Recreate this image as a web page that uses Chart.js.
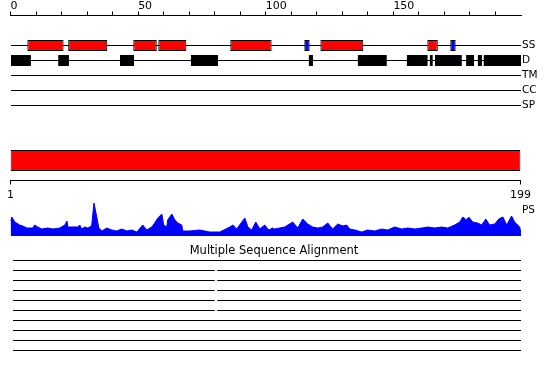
<!DOCTYPE html>
<html><head><meta charset="utf-8">
<script src="https://cdn.jsdelivr.net/npm/chart.js"></script>
<style>
html,body{margin:0;padding:0;background:#fff;}
#wrap{position:relative;width:550px;height:380px;overflow:hidden;background:#fff;}
canvas{position:absolute;left:0;}
</style></head><body>
<div id="wrap">
<canvas id="cTracks" width="550" height="121" style="top:0px"></canvas>
<canvas id="cRuler" width="550" height="65" style="top:140px"></canvas>
<canvas id="cPS" width="550" height="50" style="top:190px"></canvas>
<canvas id="cMSA" width="550" height="130" style="top:240px"></canvas>
</div>
<script>
// ---------- data ----------
const trackNames = ['SS', 'D', 'TM', 'CC', 'SP'];
const rulerMax = 200;
const seqStart = 1;
const seqEnd = 199;
const helixSegments = [[6.6,20.8],[22.6,37.9],[48.1,57.3],[57.9,68.9],[86.1,102.3],[121.4,138.2],[163.3,167.4]];
const strandSegments = [[115.1,117.2],[172.3,174.4]];
const disorderSegments = [[0,8],[18.7,22.9],[42.9,48.4],[70.7,81.3],[116.9,118.5],[136.1,147.4],[155.3,163.4],[164.3,165.4],[166.3,176.8],[178.5,181.6],[183.1,184.7],[185.4,200]];
const psPos = [0,0.5,1.7,3.6,4.8,6.4,8.7,9.5,10.7,12.3,14.6,16.6,19.3,21.3,22.1,22.5,26.4,27.1,27.9,29.1,30.3,31.8,32.7,33.8,34.6,35.8,37.7,39.7,41.6,43.6,45.6,47.5,49.5,51.8,53.4,55.3,56.5,57.7,59.3,60.0,61.2,61.6,63.2,64.4,65.5,67.1,67.5,70.2,74.1,78.1,82.0,85.9,87.1,88.6,91.8,93.0,94.5,96.1,97.7,99.6,101.2,102.7,103.5,107.4,110.6,112.5,114.5,116.4,118.4,120.4,122.3,124.3,126.2,128.2,130.2,131.7,132.9,134.9,137.6,139.9,142.7,145.4,147.8,150.5,153.3,155.6,158.4,161.1,163.5,166.2,168.9,171.3,174.0,176.0,177.2,178.7,179.5,181.1,183.0,184.6,186.2,187.7,189.7,191.3,192.9,194.4,196.3,197.5,199.5,200];
const psScore = [15,19,14,11,10,8,8,11,9,7,8,7,8,11,15,9,9,11,7,9,8,10,33,19,8,5,8,6,5,7,5,6,4,11,6,9,13,18,22,11,9,16,22,16,13,11,5,5,6,4,4,9,11,7,18,9,6,14,7,11,6,8,7,9,14,8,17,12,9,8,9,13,7,12,10,11,7,6,4,6,5,7,6,9,7,8,7,8,9,8,9,8,11,14,19,16,19,14,13,11,17,11,12,17,19,11,20,14,9,2];
const msaTitle = 'Multiple Sequence Alignment';
const msaRows = [
  [[1,200]],
  [[1,80],[81,200]],
  [[1,80],[81,200]],
  [[1,80],[81,200]],
  [[1,80],[81,200]],
  [[1,80],[81,200]],
  [[1,200]],
  [[1,200]],
  [[1,200]],
  [[1,200]]
];

// ---------- charts ----------
Chart.defaults.font.family = "'DejaVu Sans', sans-serif";
Chart.defaults.color = '#000';
Chart.defaults.animation = false;
Chart.defaults.events = [];
Chart.defaults.plugins.legend.display = false;
Chart.defaults.plugins.tooltip.enabled = false;

const barBase = {type: 'bar', indexAxis: 'y', grouped: false, borderSkipped: false, inflateAmount: 0};
const toBars = (segs, row) => segs.map(s => ({y: row, x: s}));
const noPad = s => { s.paddingTop = 0; s.paddingBottom = 0; s.paddingLeft = 0; s.paddingRight = 0; };
const spacer = (pos, w) => ({type: 'linear', position: pos, offset: false,
  ticks: {display: false}, grid: {display: false, drawTicks: false}, border: {display: false},
  afterFit: s => { s.width = w; noPad(s); }});

new Chart(document.getElementById('cTracks'), {
  type: 'bar',
  data: {datasets: [
    {...barBase, label: 'Helix', data: toBars(helixSegments, 0), backgroundColor: '#ff0000', borderColor: '#000', borderWidth: 1, barThickness: 11, maxBarThickness: 11, order: 0},
    {...barBase, label: 'Strand', data: toBars(strandSegments, 0), backgroundColor: '#0000ff', borderColor: '#000', borderWidth: 1, barThickness: 11, maxBarThickness: 11, order: 0},
    {...barBase, label: 'Disorder', data: toBars(disorderSegments, 1), backgroundColor: '#000', borderWidth: 0, barThickness: 11, maxBarThickness: 11, order: 0},
    {...barBase, label: 'Tracks', data: trackNames.map((n, i) => ({y: i, x: [0, rulerMax]})), backgroundColor: '#000', borderWidth: 0, barThickness: 1, maxBarThickness: 1, order: 1}
  ]},
  options: {
    responsive: false, devicePixelRatio: 1, indexAxis: 'y',
    layout: {padding: {left: 10.5, top: 0.5, right: 0, bottom: 0.5}},
    scales: {
      x: {type: 'linear', position: 'top', min: 0, max: rulerMax, offset: false,
        afterBuildTicks: s => { s.ticks = s.ticks.filter(t => t.value < rulerMax); },
        afterFit: s => { s.height = 15; noPad(s); },
        ticks: {stepSize: 10, autoSkip: false, maxRotation: 0, minRotation: 0, align: 'start', padding: 0,
          font: {size: 11, lineHeight: 1}, callback: v => (v % 50 === 0 ? String(v) : '')},
        grid: {offset: false, drawOnChartArea: false, drawTicks: true, tickLength: 4, color: '#000'},
        border: {display: true, color: '#000'}},
      y: {type: 'linear', position: 'right', reverse: true, min: -2, max: 5, offset: false,
        afterFit: s => { s.width = 29; noPad(s); },
        ticks: {stepSize: 1, autoSkip: false, padding: 1, font: {size: 10.5}, callback: v => (trackNames[v] !== undefined ? trackNames[v] : '')},
        grid: {offset: false, display: false, drawTicks: false}, border: {display: false}}
    }
  }
});

new Chart(document.getElementById('cRuler'), {
  type: 'bar',
  data: {datasets: [
    {...barBase, label: 'Domain', data: [{y: 0, x: [seqStart, seqEnd]}], backgroundColor: '#ff0000', borderColor: '#000', borderWidth: 1, barThickness: 21, maxBarThickness: 21}
  ]},
  options: {
    responsive: false, devicePixelRatio: 1, indexAxis: 'y',
    layout: {padding: {left: 10.5, right: 29.5, top: 0.5, bottom: 0}},
    scales: {
      x: {type: 'linear', position: 'bottom', min: seqStart, max: seqEnd, offset: false,
        afterBuildTicks: s => { s.ticks = [{value: seqStart}, {value: seqEnd}]; },
        afterFit: s => { s.height = 24.5; noPad(s); },
        ticks: {autoSkip: false, maxRotation: 0, minRotation: 0, padding: 5, font: {size: 11, lineHeight: 1}},
        grid: {offset: false, drawOnChartArea: false, tickLength: 4, color: '#000'},
        border: {display: true, color: '#000'}},
      y: {type: 'linear', display: false, min: -1, max: 1, offset: false,
        afterBuildTicks: s => { s.ticks = [{value: -1}, {value: 1}]; }}
    }
  }
});

new Chart(document.getElementById('cPS'), {
  type: 'line',
  data: {datasets: [
    {label: 'PS', data: psPos.map((p, i) => ({x: p, y: psScore[i]})), borderColor: '#0000ff', backgroundColor: '#0000ff', borderWidth: 1, pointRadius: 0, fill: 'origin', tension: 0}
  ]},
  options: {
    responsive: false, devicePixelRatio: 1,
    layout: {padding: {left: 10.5, right: 0, top: 11, bottom: 4}},
    scales: {
      x: {type: 'linear', display: false, min: 0, max: rulerMax, offset: false},
      y: {type: 'linear', position: 'right', min: 0, max: 35, offset: false,
        afterBuildTicks: s => { s.ticks = [{value: 25.5}]; },
        afterFit: s => { s.width = 29; noPad(s); },
        ticks: {padding: 1, font: {size: 10.5}, callback: () => 'PS'},
        grid: {display: false, drawTicks: false}, border: {display: false}}
    }
  }
});

new Chart(document.getElementById('cMSA'), {
  type: 'bar',
  data: {datasets: [
    {...barBase, label: 'Alignment', data: msaRows.flatMap((segs, row) => toBars(segs, row)), backgroundColor: '#000', borderWidth: 0, barThickness: 1, maxBarThickness: 1, yAxisID: 'y'}
  ]},
  options: {
    responsive: false, devicePixelRatio: 1, indexAxis: 'y',
    layout: {padding: {left: 0, right: 2, top: 0, bottom: 10}},
    plugins: {title: {display: true, text: msaTitle, color: '#000', font: {size: 11.5, weight: 'normal', lineHeight: 1.2}, padding: {top: 4, bottom: 0}}},
    scales: {
      x: {type: 'linear', display: false, min: 0, max: rulerMax, offset: false},
      y: {type: 'linear', display: false, reverse: true, min: -0.27, max: 9.95, offset: false},
      padL: spacer('left', 10.5),
      padR: spacer('right', 27)
    }
  }
});
</script>
</body></html>
